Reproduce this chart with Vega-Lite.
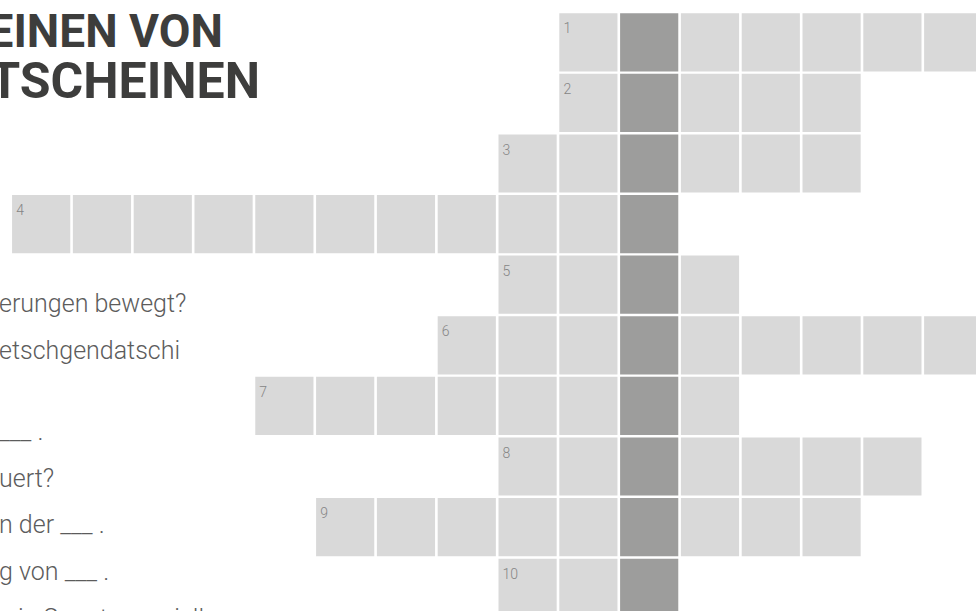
{
  "$schema": "https://vega.github.io/schema/vega-lite/v6.json",
  "width": 976,
  "height": 611,
  "autosize": {"type": "none"},
  "padding": 0,
  "background": "#ffffff",
  "config": {"view": {"stroke": null}, "font": "Roboto"},
  "datasets": {
    "cells": [
      {"r": 0, "c": 9, "k": "light", "n": "1"}, {"r": 0, "c": 10, "k": "dark"}, {"r": 0, "c": 11, "k": "light"}, {"r": 0, "c": 12, "k": "light"}, {"r": 0, "c": 13, "k": "light"}, {"r": 0, "c": 14, "k": "light"}, {"r": 0, "c": 15, "k": "light"},
      {"r": 1, "c": 9, "k": "light", "n": "2"}, {"r": 1, "c": 10, "k": "dark"}, {"r": 1, "c": 11, "k": "light"}, {"r": 1, "c": 12, "k": "light"}, {"r": 1, "c": 13, "k": "light"},
      {"r": 2, "c": 8, "k": "light", "n": "3"}, {"r": 2, "c": 9, "k": "light"}, {"r": 2, "c": 10, "k": "dark"}, {"r": 2, "c": 11, "k": "light"}, {"r": 2, "c": 12, "k": "light"}, {"r": 2, "c": 13, "k": "light"},
      {"r": 3, "c": 0, "k": "light", "n": "4"}, {"r": 3, "c": 1, "k": "light"}, {"r": 3, "c": 2, "k": "light"}, {"r": 3, "c": 3, "k": "light"}, {"r": 3, "c": 4, "k": "light"}, {"r": 3, "c": 5, "k": "light"}, {"r": 3, "c": 6, "k": "light"}, {"r": 3, "c": 7, "k": "light"}, {"r": 3, "c": 8, "k": "light"}, {"r": 3, "c": 9, "k": "light"}, {"r": 3, "c": 10, "k": "dark"},
      {"r": 4, "c": 8, "k": "light", "n": "5"}, {"r": 4, "c": 9, "k": "light"}, {"r": 4, "c": 10, "k": "dark"}, {"r": 4, "c": 11, "k": "light"},
      {"r": 5, "c": 7, "k": "light", "n": "6"}, {"r": 5, "c": 8, "k": "light"}, {"r": 5, "c": 9, "k": "light"}, {"r": 5, "c": 10, "k": "dark"}, {"r": 5, "c": 11, "k": "light"}, {"r": 5, "c": 12, "k": "light"}, {"r": 5, "c": 13, "k": "light"}, {"r": 5, "c": 14, "k": "light"}, {"r": 5, "c": 15, "k": "light"},
      {"r": 6, "c": 4, "k": "light", "n": "7"}, {"r": 6, "c": 5, "k": "light"}, {"r": 6, "c": 6, "k": "light"}, {"r": 6, "c": 7, "k": "light"}, {"r": 6, "c": 8, "k": "light"}, {"r": 6, "c": 9, "k": "light"}, {"r": 6, "c": 10, "k": "dark"}, {"r": 6, "c": 11, "k": "light"},
      {"r": 7, "c": 8, "k": "light", "n": "8"}, {"r": 7, "c": 9, "k": "light"}, {"r": 7, "c": 10, "k": "dark"}, {"r": 7, "c": 11, "k": "light"}, {"r": 7, "c": 12, "k": "light"}, {"r": 7, "c": 13, "k": "light"}, {"r": 7, "c": 14, "k": "light"},
      {"r": 8, "c": 5, "k": "light", "n": "9"}, {"r": 8, "c": 6, "k": "light"}, {"r": 8, "c": 7, "k": "light"}, {"r": 8, "c": 8, "k": "light"}, {"r": 8, "c": 9, "k": "light"}, {"r": 8, "c": 10, "k": "dark"}, {"r": 8, "c": 11, "k": "light"}, {"r": 8, "c": 12, "k": "light"}, {"r": 8, "c": 13, "k": "light"},
      {"r": 9, "c": 8, "k": "light", "n": "10"}, {"r": 9, "c": 9, "k": "light"}, {"r": 9, "c": 10, "k": "dark"}
    ],
    "title1": [{"line": 0, "t": "EINEN VON"}],
    "title2": [{"line": 1, "t": "TSCHEINEN"}],
    "questions": [
      {"line": 0, "t": "erungen bewegt?"},
      {"line": 1, "t": "etschgendatschi"},
      {"line": 2.75, "t": " ___ ."},
      {"line": 3.75, "t": "uert?"},
      {"line": 4.75, "t": "n der ___ ."},
      {"line": 5.75, "t": "g von ___ ."},
      {"line": 6.75, "t": "e in Sonntagsspielle"}
    ]
  },
  "layer": [
    {
      "data": {"name": "cells"},
      "mark": {"type": "square", "size": 3385, "filled": true, "opacity": 1, "strokeWidth": 0, "clip": true},
      "encoding": {
        "x": {"field": "c", "type": "quantitative", "scale": {"domain": [-0.677, 15.375], "zero": false, "nice": false}, "axis": null},
        "y": {"field": "r", "type": "quantitative", "scale": {"domain": [-0.698, 9.384], "zero": false, "nice": false, "reverse": true}, "axis": null},
        "color": {"field": "k", "type": "nominal", "scale": {"domain": ["light", "dark"], "range": ["#d9d9d9", "#9d9d9c"]}, "legend": null}
      }
    },
    {
      "data": {"name": "cells"},
      "transform": [{"filter": "isValid(datum.n)"}],
      "mark": {"type": "text", "align": "left", "baseline": "alphabetic", "dx": -25, "dy": -9, "fontSize": 14, "fontWeight": 300, "color": "#858585", "font": "Roboto"},
      "encoding": {
        "x": {"field": "c", "type": "quantitative", "axis": null},
        "y": {"field": "r", "type": "quantitative", "scale": {"domain": [-0.698, 9.384], "zero": false, "nice": false, "reverse": true}, "axis": null},
        "text": {"field": "n"}
      }
    },
    {
      "data": {"name": "title1"},
      "mark": {"type": "text", "align": "right", "baseline": "alphabetic", "dx": 223, "fontSize": 46, "fontWeight": 700, "color": "#3d3d3c", "font": "Roboto", "clip": true},
      "encoding": {
        "x": {"datum": -0.677, "type": "quantitative"},
        "y": {"field": "line", "type": "quantitative", "scale": {"domain": [-0.91, 11.0], "zero": false, "nice": false, "reverse": true}, "axis": null},
        "text": {"field": "t"}
      }
    },
    {
      "data": {"name": "title2"},
      "mark": {"type": "text", "align": "right", "baseline": "alphabetic", "dx": 260, "fontSize": 50, "fontWeight": 700, "color": "#3d3d3c", "font": "Roboto", "clip": true},
      "encoding": {
        "x": {"datum": -0.677, "type": "quantitative"},
        "y": {"field": "line", "type": "quantitative", "scale": {"domain": [-0.91, 11.0], "zero": false, "nice": false, "reverse": true}, "axis": null},
        "text": {"field": "t"}
      }
    },
    {
      "data": {"name": "questions"},
      "mark": {"type": "text", "align": "left", "baseline": "alphabetic", "dx": -1, "fontSize": 25, "fontWeight": 300, "color": "#5c5c5c", "font": "Roboto", "clip": true},
      "encoding": {
        "x": {"datum": -0.677, "type": "quantitative"},
        "y": {"field": "line", "type": "quantitative", "scale": {"domain": [-6.695, 6.416], "zero": false, "nice": false, "reverse": true}, "axis": null},
        "text": {"field": "t"}
      }
    }
  ],
  "resolve": {"scale": {"y": "independent"}}
}
